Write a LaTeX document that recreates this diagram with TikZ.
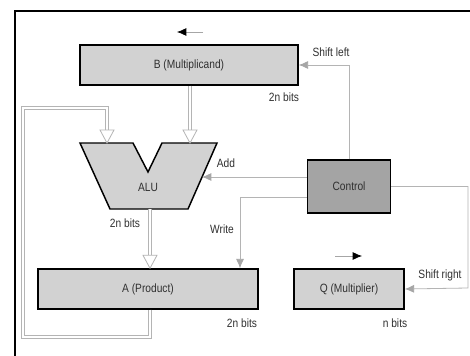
\documentclass[tikz,border=0pt]{standalone}
\usepackage{fontspec}
\setmainfont[FakeStretch=0.85]{Liberation Sans}
\usepackage{tikz}
\usetikzlibrary{positioning,arrows.meta}

\definecolor{regfill}{HTML}{D2D2D2}
\definecolor{ctlfill}{HTML}{A4A4A4}
\definecolor{wire}{HTML}{B4B4B4}
\definecolor{ink}{HTML}{303030}

\tikzset{
  reg/.style={draw=black,line width=1.1pt,fill=regfill,text=ink,inner sep=0pt},
  ctl/.style={draw=wire,line width=0.6pt,-{Latex[length=7pt,width=6pt,fill=gray!70,color=gray!70]}},
  dbl/.style={draw=wire,line width=0.6pt,double=white,double distance=2.2pt},
  lbl/.style={text=ink,inner sep=0pt},
  shiftdir/.style={draw=gray!70,line width=0.6pt,-{Latex[length=7pt,width=6pt,black]}}
}
% hollow arrow head, tip at #1
\newcommand{\openhead}[1]{\draw[wire,line width=0.6pt,fill=white] (#1) -- ++(-7,-13) -- ++(14,0) -- cycle;}

\begin{document}
\begin{tikzpicture}[x=0.75pt,y=-0.75pt,font=\fontsize{9}{10}\selectfont]
  \useasboundingbox (0,0) rectangle (470,356);
  \fill[white] (0,0) rectangle (470,356);
  % frame
  \draw[line width=1.6pt] (15,356) -- (15,11) -- (470,11);

  % registers
  \node[reg,minimum width=163.5pt,minimum height=30pt] (B) at (189,65) {B (Multiplicand)};
  \node[reg,minimum width=165pt,minimum height=30pt] (A) at (148,289) {A (Product)};
  \node[reg,minimum width=82.5pt,minimum height=30pt] (Q) at (349,289) {Q (Multiplier)};
  \node[reg,fill=ctlfill,minimum width=62.25pt,minimum height=39.75pt] (ctrl) at (349,186.5) {Control};

  % ALU
  \draw[reg] (80,143) -- (133,143) -- (148,172) -- (162,143) -- (217,143) -- (188,209) -- (110,209) -- cycle;
  \node[lbl] (alu) at (148,187) {ALU};
  \coordinate (aluL) at (107,143);
  \coordinate (aluR) at (190,143);
  \coordinate (aluO) at (150,209);
  \coordinate (aluadd) at (202,177);

  % data paths
  \draw[dbl] (B.south -| aluR) -- ([yshift=13*0.75pt]aluR);
  \openhead{aluR}
  \draw[dbl] (aluO) -- ([yshift=13*0.75pt]aluO |- A.north);
  \openhead{aluO |- A.north}
  \draw[dbl] (A.south -| aluO) |- (23,337) |- (aluL |- 0,108) -- ([yshift=13*0.75pt]aluL);
  \openhead{aluL}

  % control lines
  \coordinate (wr) at (240,197);
  \coordinate (rt) at (468,288);
  \draw[ctl] (ctrl.north) |- (B.east);
  \draw[ctl] (aluadd -| ctrl.west) -- (aluadd);
  \draw[ctl] (wr -| ctrl.west) -| (wr |- A.north);
  \draw[ctl] (ctrl.east) -| (rt) -- (Q.east);

  % shift directions
  \draw[shiftdir] (203,32) -- (177,32);
  \draw[shiftdir] (335,256) -- (362,256);

  % labels
  \node[lbl] (lshl) at (331,52) {Shift left};
  \node[lbl] (lbB) at (284,97) {2n bits};
  \node[lbl] (ladd) at (226,163) {Add};
  \node[lbl] (lbalu) at (125,223) {2n bits};
  \node[lbl] (lwr) at (222,229) {Write};
  \node[lbl] (lbA) at (242,323) {2n bits};
  \node[lbl] (lbQ) at (395,323) {n bits};
  \node[lbl] (lshr) at (440,275) {Shift right};
\end{tikzpicture}
\end{document}
